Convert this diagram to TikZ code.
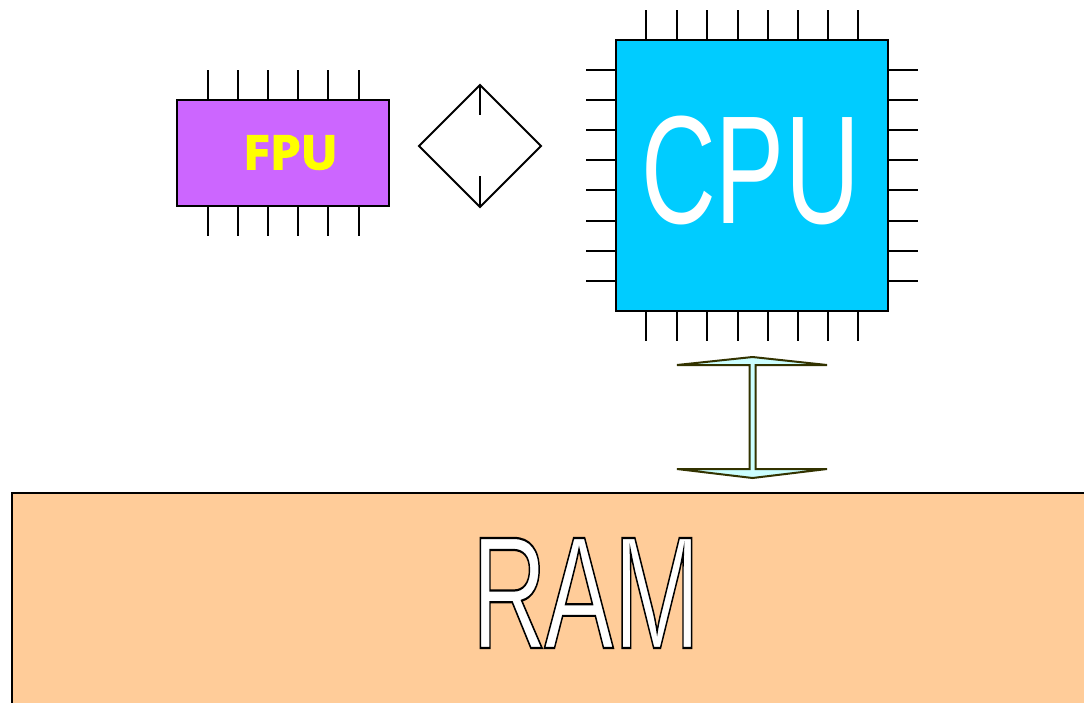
\documentclass[tikz,border=0pt]{standalone}
\usepackage{fontspec}
\setmainfont{Liberation Sans}
\newfontfamily\fpufont{Open Sans}
\definecolor{fpufill}{HTML}{CC66FF}
\definecolor{cpufill}{HTML}{00CCFF}
\definecolor{ramfill}{HTML}{FFCC99}
\definecolor{busline}{HTML}{333300}
\definecolor{busfill}{HTML}{CCFFFF}
\newcommand{\outlinetext}[1]{\special{pdf:code q 2 Tr 2.2 w 0 0 0 RG 1 1 1 rg}#1\special{pdf:code Q}}
\newcommand{\heavytext}[1]{\special{pdf:code q 2 Tr 1.5 w 1 1 0 RG 1 1 0 rg}#1\special{pdf:code Q}}
\tikzset{
  outl/.style={draw=black,line width=1.8pt},
  pin/.style={black,line width=1.8pt},
  chipbox/.style={outl,inner sep=0pt,outer sep=0pt,anchor=north west},
}
\begin{document}
\begin{tikzpicture}[x=1pt,y=-1pt]
\useasboundingbox (0,0) rectangle (1084,702);
\clip (0,0) rectangle (1084,702);
% RAM
\node[chipbox,fill=ramfill,minimum width=1100pt,minimum height=240pt] (ram) at (11.8,493) {};
\node[inner sep=0pt,font=\fontsize{160}{160}\selectfont] (ramtext) at (586,593) {\scalebox{0.65}[1]{\outlinetext{R\kern-4pt AM}}};
% FPU pins
\foreach \x in {207.8,238,268,298,328,359} {
  \draw[pin] (\x,70) -- (\x,100);
  \draw[pin] (\x,206) -- (\x,236);
}
\node[chipbox,fill=fpufill,minimum width=212pt,minimum height=106pt] (fpu) at (177,100) {};
\node[inner sep=0pt,text=yellow,font=\fpufont\bfseries\fontsize{47}{47}\selectfont] (fputext) at (290.5,152.5) {\scalebox{1.04}[1]{\heavytext{FPU}}};
% diamond
\draw[outl,line join=miter] (480,85) -- (541,146) -- (480,207) -- (419,146) -- cycle;
\draw[pin] (480,85) -- (480,115);
\draw[pin] (480,176) -- (480,207);
% CPU pins
\foreach \x in {646,676.8,707,737.8,768,798,828,858} {
  \draw[pin] (\x,10) -- (\x,40);
  \draw[pin] (\x,311) -- (\x,341);
}
\foreach \y in {70,100,130,160,190,221,251,281} {
  \draw[pin] (586,\y) -- (616,\y);
  \draw[pin] (888,\y) -- (918,\y);
}
\node[chipbox,fill=cpufill,minimum width=272pt,minimum height=271pt] (cpu) at (616,40) {};
\node[inner sep=0pt,text=white,font=\fontsize{154}{154}\selectfont] (cputext) at (750.5,170) {\scalebox{0.672}[1]{CPU}};
% bus arrow
\draw[draw=busline,fill=busfill,line width=2pt,line join=miter,miter limit=3]
  (752.5,357) -- (827,365) -- (755.7,365) -- (755.7,469) -- (827,469) -- (752.5,478)
  -- (677,469) -- (749.6,469) -- (749.6,365) -- (677,365) -- cycle;
\end{tikzpicture}
\end{document}
